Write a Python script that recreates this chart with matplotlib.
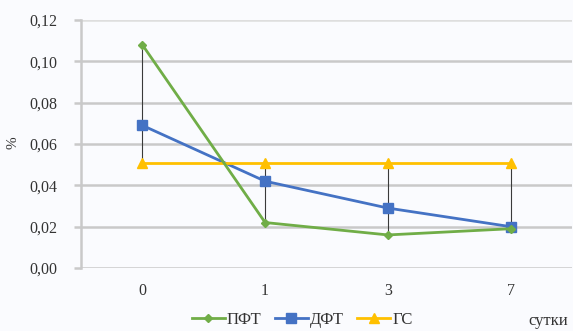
import matplotlib
matplotlib.use("Agg")
import matplotlib.pyplot as plt
import numpy as np

categories = ["0", "1", "3", "7"]
pft = [0.108, 0.022, 0.016, 0.019]
dft = [0.069, 0.042, 0.029, 0.020]
gs = [0.051, 0.051, 0.051, 0.051]
yticks = [0.00, 0.02, 0.04, 0.06, 0.08, 0.10, 0.12]
ytick_labels = ["0,00", "0,02", "0,04", "0,06", "0,08", "0,10", "0,12"]

plt.rcParams['font.family'] = ['Liberation Serif', 'DejaVu Serif']

fig = plt.figure(figsize=(5.73, 3.31), dpi=100)
fig.patch.set_facecolor('#fafbfe')
ax = fig.add_axes([81/573, 1-268/331, 491/573, 248/331])
ax.set_facecolor('none')

x = np.arange(len(categories))
grid_c = '#c9c9c9'
for yt in yticks[:-1]:
    ax.axhline(yt, color=grid_c, lw=1.8, zorder=1)
ax.axhline(yticks[-1], color='#dedede', lw=1.8, zorder=1)

# high-low lines
hi = np.maximum.reduce([pft, dft, gs])
lo = np.minimum.reduce([pft, dft, gs])
ax.vlines(x, lo, hi, color='#3a3a3a', lw=0.8, zorder=2)

ax.plot(x, pft, color='#70ad47', lw=2.0, marker='D', ms=4.5, label='ПФТ', zorder=4)
ax.plot(x, dft, color='#4472c4', lw=2.0, marker='s', ms=7, label='ДФТ', zorder=3)
ax.plot(x, gs, color='#ffc000', lw=2.0, marker='^', ms=7.5, label='ГС', zorder=3)

ax.set_xlim(-0.5, 3.5)
ax.set_ylim(0, 0.12)
ax.set_xticks(x)
ax.set_xticklabels(categories, fontsize=11.5, color='#333333')
ax.set_yticks(yticks)
ax.set_yticklabels(ytick_labels, fontsize=11.5, color='#333333')
ax.tick_params(axis='x', length=0, pad=11)
ax.tick_params(axis='y', length=5, width=1.8, color=grid_c, pad=12)
for s in ['top', 'right', 'bottom']:
    ax.spines[s].set_visible(False)
ax.spines['left'].set_color(grid_c)
ax.spines['left'].set_linewidth(1.8)

fig.text(13/573, 1-143/331, '%', rotation=90, fontsize=11, ha='center', va='center', color='#333333')
fig.text(548/573, 1-321/331, 'сутки', fontsize=12, ha='center', va='center', color='#333333')

leg = fig.legend(loc='center', bbox_to_anchor=(302/573, 1-320/331), ncol=3, frameon=False,
                 fontsize=12, handlelength=2.0, handletextpad=0.1, columnspacing=0.8)
for t in leg.get_texts():
    t.set_color('#333333')

fig.savefig('out.png', dpi=100, facecolor=fig.get_facecolor())
